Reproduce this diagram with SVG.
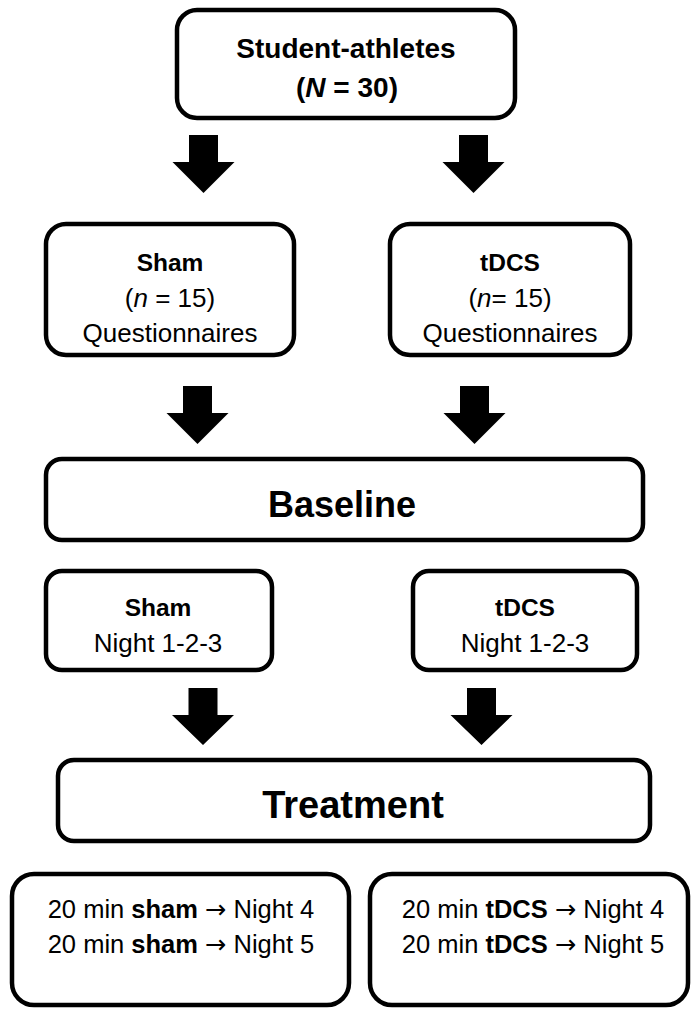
<svg xmlns="http://www.w3.org/2000/svg" width="692" height="1009" viewBox="0 0 692 1009">
<style>
  .box { fill: #ffffff; stroke: #000000; stroke-width: 4.5; }
  .arrow { fill: #000000; stroke: none; }
  text { font-family: "Liberation Sans", Arial, sans-serif; fill: #000000; text-anchor: middle; }
  .t28b { font-size: 28px; font-weight: bold; }
  .t26 { font-size: 26px; }
  .t25 { font-size: 25.5px; }
  .t24b { font-size: 24.5px; font-weight: bold; }
  .b { font-weight: bold; }
  .i { font-style: italic; }
  .ar { font-family: "DejaVu Sans", sans-serif; }
</style>
<rect width="692" height="1009" fill="#ffffff"/>

<g id="connectors">
  <polygon class="arrow" points="189,135 218,135 218,162 234.5,162 203.5,193 172.5,162 189,162"/>
  <polygon class="arrow" points="459,135 488,135 488,162 504.5,162 473.5,193 442.5,162 459,162"/>
  <polygon class="arrow" points="183,386 212,386 212,413 228.5,413 197.5,444 166.5,413 183,413"/>
  <polygon class="arrow" points="460,386 489,386 489,413 505.5,413 474.5,444 443.5,413 460,413"/>
  <polygon class="arrow" points="188.5,688 217.5,688 217.5,715 234,715 203,745 172,715 188.5,715"/>
  <polygon class="arrow" points="467,688 496,688 496,715 512.5,715 481.5,745 450.5,715 467,715"/>
</g>

<g id="node-participants">
  <rect class="box" x="177" y="10" width="338" height="108" rx="20"/>
  <text class="t28b" x="346" y="58">Student-athletes</text>
  <text class="t28b" x="347" y="97">(<tspan class="i">N</tspan> = 30)</text>
</g>

<g id="node-sham-group">
  <rect class="box" x="46" y="224" width="248" height="131" rx="20"/>
  <text class="t24b" x="170" y="271">Sham</text>
  <text class="t26" x="170" y="306.5">(<tspan class="i">n</tspan> = 15)</text>
  <text class="t26" x="170" y="341.5">Questionnaires</text>
</g>

<g id="node-tdcs-group">
  <rect class="box" x="390" y="224" width="240" height="131" rx="20"/>
  <text class="t24b" x="510" y="271">tDCS</text>
  <text class="t26" x="510" y="306.5">(<tspan class="i">n</tspan>= 15)</text>
  <text class="t26" x="510" y="341.5">Questionnaires</text>
</g>

<g id="node-baseline">
  <rect class="box" x="46" y="459" width="597" height="81" rx="16"/>
  <text x="342" y="517" style="font-size:36px;font-weight:bold">Baseline</text>
</g>

<g id="node-sham-nights">
  <rect class="box" x="46" y="571" width="226" height="99" rx="16"/>
  <text class="t24b" x="158" y="616">Sham</text>
  <text class="t26" x="158" y="652">Night 1-2-3</text>
</g>

<g id="node-tdcs-nights">
  <rect class="box" x="413" y="571" width="224" height="99" rx="16"/>
  <text class="t24b" x="525" y="616">tDCS</text>
  <text class="t26" x="525" y="652">Night 1-2-3</text>
</g>

<g id="node-treatment">
  <rect class="box" x="58" y="760" width="592" height="81" rx="16"/>
  <text x="353" y="818" style="font-size:38px;font-weight:bold">Treatment</text>
</g>

<g id="node-sham-treatment">
  <rect class="box" x="12" y="874" width="337" height="131" rx="22"/>
  <text class="t25" x="181" y="918">20 min <tspan class="b">sham</tspan> <tspan class="ar">→</tspan> Night 4</text>
  <text class="t25" x="181" y="953">20 min <tspan class="b">sham</tspan> <tspan class="ar">→</tspan> Night 5</text>
</g>

<g id="node-tdcs-treatment">
  <rect class="box" x="370" y="874" width="318" height="131" rx="22"/>
  <text class="t25" x="533" y="918">20 min <tspan class="b">tDCS</tspan> <tspan class="ar">→</tspan> Night 4</text>
  <text class="t25" x="533" y="953">20 min <tspan class="b">tDCS</tspan> <tspan class="ar">→</tspan> Night 5</text>
</g>
</svg>
